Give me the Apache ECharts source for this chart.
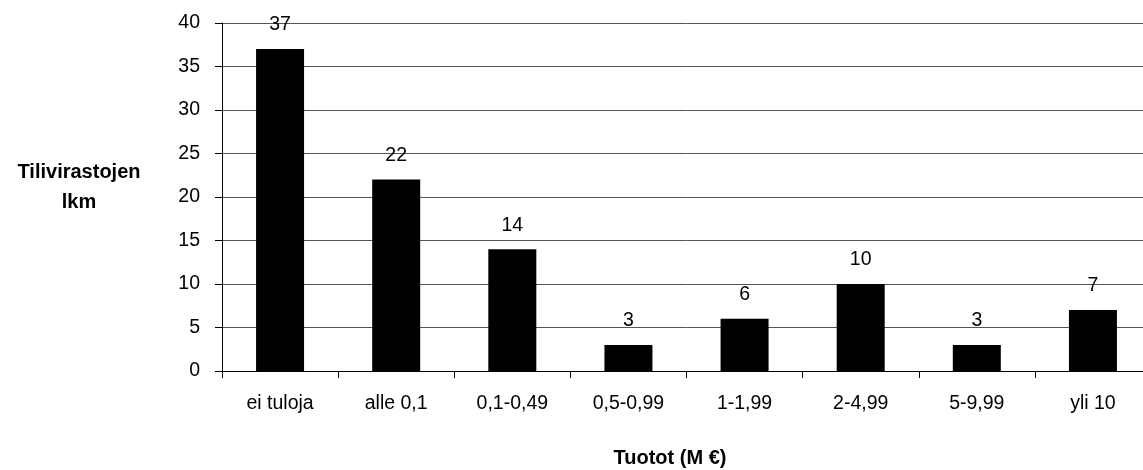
<!DOCTYPE html>
<html>
<head>
<meta charset="utf-8">
<script src="https://cdn.jsdelivr.net/npm/echarts@6/dist/echarts.min.js"></script>
<style>html,body{margin:0;padding:0;background:#fff;overflow:hidden}#c{width:1170px;height:470px}</style>
</head>
<body>
<div id="c"></div>
<script>
const categories = ['ei tuloja', 'alle 0,1', '0,1-0,49', '0,5-0,99', '1-1,99', '2-4,99', '5-9,99', 'yli 10'];
const values = [37, 22, 14, 3, 6, 10, 3, 7];
const yAxisTitle = 'Tilivirastojen\nlkm';
const xAxisTitle = 'Tuotot (M €)';

const chart = echarts.init(document.getElementById('c'));
const font = 'Liberation Sans, Arial, sans-serif';
const fs = 19.5;
chart.setOption({
  animation: false,
  backgroundColor: '#fff',
  grid: { left: 222, top: 23, width: 929, height: 348, containLabel: false },
  xAxis: {
    type: 'category',
    data: categories,
    axisLine: { lineStyle: { color: '#000', width: 1 } },
    axisTick: { show: true, length: 7, inside: false, lineStyle: { color: '#000' } },
    axisLabel: { color: '#000', fontSize: fs, fontFamily: font, margin: 23 },
    splitLine: { show: false }
  },
  yAxis: {
    type: 'value',
    min: 0, max: 40, interval: 5,
    axisLine: { show: true, lineStyle: { color: '#000', width: 1 } },
    axisTick: { show: true, length: 7, lineStyle: { color: '#000' } },
    axisLabel: { color: '#000', fontSize: fs, fontFamily: font, margin: 22 },
    splitLine: { show: true, lineStyle: { color: '#555', width: 1 } }
  },
  graphic: [
    { type: 'text', style: { text: yAxisTitle, x: 79, y: 187, textAlign: 'center', textVerticalAlign: 'middle', fontSize: 20, fontWeight: 'bold', fontFamily: font, fill: '#000', lineHeight: 30 } },
    { type: 'text', style: { text: xAxisTitle, x: 670, y: 458, textAlign: 'center', textVerticalAlign: 'middle', fontSize: 20, fontWeight: 'bold', fontFamily: font, fill: '#000' } }
  ],
  series: [{
    type: 'bar',
    data: values,
    barWidth: 48,
    itemStyle: { color: '#000' },
    label: { show: true, position: 'top', distance: 14, color: '#000', fontSize: fs, fontFamily: font }
  }]
});
</script>
</body>
</html>
